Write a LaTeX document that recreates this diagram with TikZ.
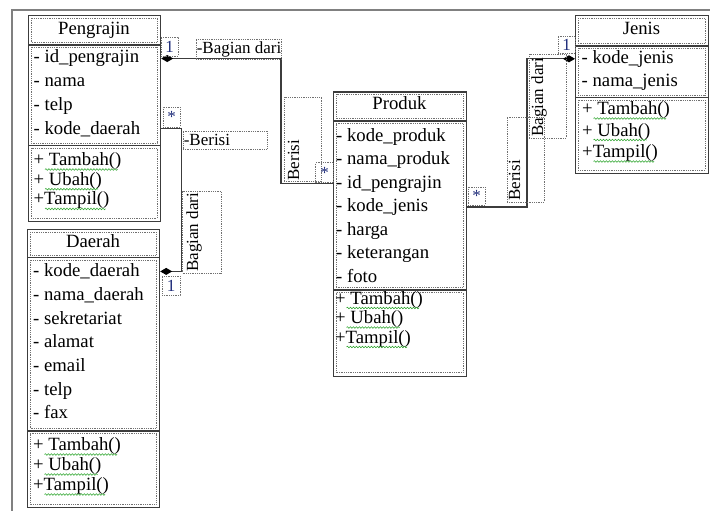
\documentclass[tikz,border=0pt]{standalone}
\usepackage{fontspec}
\setmainfont{Liberation Serif}
\usetikzlibrary{arrows.meta,decorations.pathmorphing,calc}
\definecolor{boxline}{HTML}{3C3C3C}
\definecolor{dotline}{HTML}{707070}
\definecolor{framec}{HTML}{808080}
\definecolor{multc}{HTML}{1C2A78}
\definecolor{squig}{HTML}{35A835}
\tikzset{
  outerbox/.style={draw=boxline, line width=1.2pt, inner sep=0pt, anchor=north west},
  innerbox/.style={draw=dotline, densely dotted, line width=0.8pt},
  txt/.style={font=\fontsize{18.7}{20}\selectfont, inner sep=0pt, anchor=base west},
  ttl/.style={font=\fontsize{18.7}{20}\selectfont, inner sep=0pt, anchor=base},
  ltxt/.style={font=\fontsize{17}{19}\selectfont, inner sep=0pt, anchor=west},
  lblbox/.style={draw=dotline, densely dotted, line width=0.8pt, inner sep=0pt},
  rtxt/.style={font=\fontsize{17}{19}\selectfont, rotate=90, anchor=north west, inner xsep=1.5pt},
  mult/.style={lblbox, font=\fontsize{17}{19}\selectfont, text=multc},
  conn/.style={draw=boxline, line width=1.2pt},
  diastart/.style={{Diamond[length=12pt,width=7pt,color=black]}-},
  wave/.style={draw=squig, line width=0.6pt, decorate, decoration={snake, segment length=3pt, amplitude=0.8pt}},
}
\newcommand\classparts[6]{%
  \draw[boxline, line width=1.2pt] (#1,#5) -- (#3,#5) (#1,#6) -- (#3,#6);
  \draw[innerbox] (#1+3,#2+3) rectangle (#3-3,#5-2.5);
  \draw[innerbox] (#1+3,#5+2.5) rectangle (#3-3,#6-2.5);
  \draw[innerbox] (#1+3,#6+2.5) rectangle (#3-3,#4-3);
}
\newcommand\attr[4]{\node[txt] (#1) at (#2,#3) {#4};}
\newcommand\meth[4]{\node[txt] (#1) at (#2,#3) {#4};
  \draw[wave] ($(#1.base west)+(11.5,4)$) -- ($(#1.base east)+(-4,4)$);}
\begin{document}
\begin{tikzpicture}[x=1pt,y=-1pt]
\useasboundingbox (0,0) rectangle (710,511);
\draw[framec, line width=1.2pt] (12,511) -- (12,10) -- (710,10);

% Pengrajin
\node[outerbox, minimum width=132pt, minimum height=206pt] (pengrajin) at (28,15) {};
\classparts{28}{15}{160}{221}{45}{145.5}
\node[ttl] (pengrajin-t) at (94,35) {Pengrajin};
\attr{p1}{33.5}{63}{- id\_pengrajin}
\attr{p2}{33.5}{86.7}{- nama}
\attr{p3}{33.5}{110.4}{- telp}
\attr{p4}{33.5}{134.1}{- kode\_daerah}
\meth{pm1}{33.5}{165.5}{+ Tambah()}
\meth{pm2}{33.5}{185.2}{+ Ubah()}
\meth{pm3}{33.5}{204.9}{+Tampil()}

% Daerah
\node[outerbox, minimum width=132pt, minimum height=278pt] (daerah) at (27,229) {};
\classparts{27}{229}{159}{507}{257.5}{431}
\node[ttl] (daerah-t) at (93,247.3) {Daerah};
\attr{d1}{33}{276.7}{- kode\_daerah}
\attr{d2}{33}{300.4}{- nama\_daerah}
\attr{d3}{33}{324.1}{- sekretariat}
\attr{d4}{33}{347.8}{- alamat}
\attr{d5}{33}{371.5}{- email}
\attr{d6}{33}{395.2}{- telp}
\attr{d7}{33}{418.9}{- fax}
\meth{dm1}{33}{450.5}{+ Tambah()}
\meth{dm2}{33}{470.5}{+ Ubah()}
\meth{dm3}{33}{490.5}{+Tampil()}

% Produk
\node[outerbox, minimum width=133pt, minimum height=284pt] (produk) at (333,91.5) {};
\classparts{333}{91.5}{466}{375.5}{121}{290}
\node[ttl] (produk-t) at (399.5,110) {Produk};
\attr{r1}{336}{141}{- kode\_produk}
\attr{r2}{336}{164.5}{- nama\_produk}
\attr{r3}{336}{188}{- id\_pengrajin}
\attr{r4}{336}{211.5}{- kode\_jenis}
\attr{r5}{336}{235}{- harga}
\attr{r6}{336}{258.5}{- keterangan}
\attr{r7}{336}{282}{- foto}
\meth{rm1}{335}{304}{+ Tambah()}
\meth{rm2}{335}{323.5}{+ Ubah()}
\meth{rm3}{335}{343}{+Tampil()}

% Jenis
\node[outerbox, minimum width=133pt, minimum height=158pt] (jenis) at (575,15) {};
\classparts{575}{15}{708}{173}{46}{97.5}
\node[ttl] (jenis-t) at (641.5,34.3) {Jenis};
\attr{j1}{581.5}{63.3}{- kode\_jenis}
\attr{j2}{581.5}{86.3}{- nama\_jenis}
\meth{jm1}{582}{114.5}{+ Tambah()}
\meth{jm2}{582}{136}{+ Ubah()}
\meth{jm3}{582}{157.5}{+Tampil()}

% bend coordinates
\coordinate (b1) at (281,0);
\coordinate (b2) at (181.5,0);
\coordinate (b3) at (527,0);

% connectors
\draw[conn, diastart] (pengrajin.east |- p1) -- (b1 |- p1) -- (b1 |- r3) -- (produk.west |- r3);
\draw[conn, diastart] (daerah.east |- d1) -- (b2 |- d1) -- (b2 |- p4) -- (pengrajin.east |- p4);
\draw[conn, diastart] (jenis.west |- j1) -- (b3 |- j1) -- (b3 |- r4) -- (produk.east |- r4);

% labels connector 1
\node[mult, minimum width=17pt, minimum height=19pt] (l1) at (169.5,46.5) {1};
\node[lblbox, minimum width=85pt, minimum height=20pt] (l2) at (238.5,49) {};
\node[ltxt] (l2t) at ([xshift=1pt]l2.west) {-Bagian dari};
\node[lblbox, minimum width=37.5pt, minimum height=84.7pt] (l3) at (302.75,139.35) {};
\node[rtxt, inner ysep=4pt] (l3t) at (l3.south west) {Berisi};
\node[mult, minimum width=17.6pt, minimum height=19.6pt] (l4) at (324.5,172.5) {*};

% labels connector 2
\node[mult, minimum width=17pt, minimum height=20pt] (l5) at (171.5,117) {*};
\node[lblbox, minimum width=84pt, minimum height=18pt] (l6) at (225,140) {};
\node[ltxt] (l6t) at ([xshift=1pt]l6.west) {-Berisi};
\node[lblbox, minimum width=38.5pt, minimum height=82pt] (l7) at (201.75,232) {};
\node[rtxt, inner ysep=4pt] (l7t) at (l7.south west) {Bagian dari};
\node[mult, minimum width=18pt, minimum height=19pt] (l8) at (171,285.5) {1};

% labels connector 3
\node[mult, minimum width=17pt, minimum height=18pt] (l9) at (476.5,196) {*};
\node[lblbox, minimum width=37pt, minimum height=85pt] (l10) at (525.5,159.5) {};
\node[rtxt, inner ysep=2pt] (l10t) at (l10.south west) {Berisi};
\node[lblbox, minimum width=37pt, minimum height=84pt] (l11) at (547.5,96) {};
\node[rtxt, inner ysep=2.5pt] (l11t) at (l11.south west) {Bagian dari};
\node[mult, minimum width=17pt, minimum height=17pt] (l12) at (566.5,44.5) {1};
\end{tikzpicture}
\end{document}
